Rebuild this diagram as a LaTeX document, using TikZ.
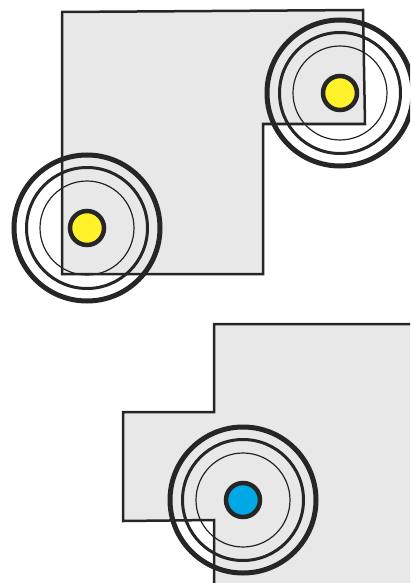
\documentclass[tikz,border=0pt]{standalone}
\definecolor{ink}{HTML}{262626}
\definecolor{platefill}{HTML}{E8E8E8}
\definecolor{dotyellow}{HTML}{FFF22A}
\definecolor{dotblue}{HTML}{00A9E6}
\begin{document}
\begin{tikzpicture}[x=1pt,y=-1pt,
  plate/.style={fill=platefill,draw=ink,line width=2.5pt,line join=miter},
  ringA/.style={draw=ink,line width=5pt},
  ringB/.style={draw=ink,line width=3pt},
  ringC/.style={draw=ink,line width=1.2pt},
  dotring/.style={draw=ink,line width=4.5pt},
  pics/emitter/.style={code={
    \draw[ringA] (0,0) circle (73);
    \draw[ringB] (0,0) circle (60.5);
    \draw[ringC] (0,0) circle (47);
    \draw[dotring,fill=#1] (0,0) circle (17);
  }}]
\useasboundingbox (0,0) rectangle (410,583);
\clip (0,0) rectangle (410,583);
% top plate
\draw[plate] (62,12) -- (363,10) -- (365,124) -- (263,124) -- (263,274) -- (62,274) -- cycle;
% bottom plate
\draw[plate] (214,324) -- (440,324) -- (440,600) -- (214,600) -- (214,520) -- (123,521) -- (123,412) -- (214,412) -- cycle;
% emitters
\pic at (340,93) {emitter=dotyellow};
\pic at (87,228) {emitter=dotyellow};
\pic at (243,500) {emitter=dotblue};
\end{tikzpicture}
\end{document}
